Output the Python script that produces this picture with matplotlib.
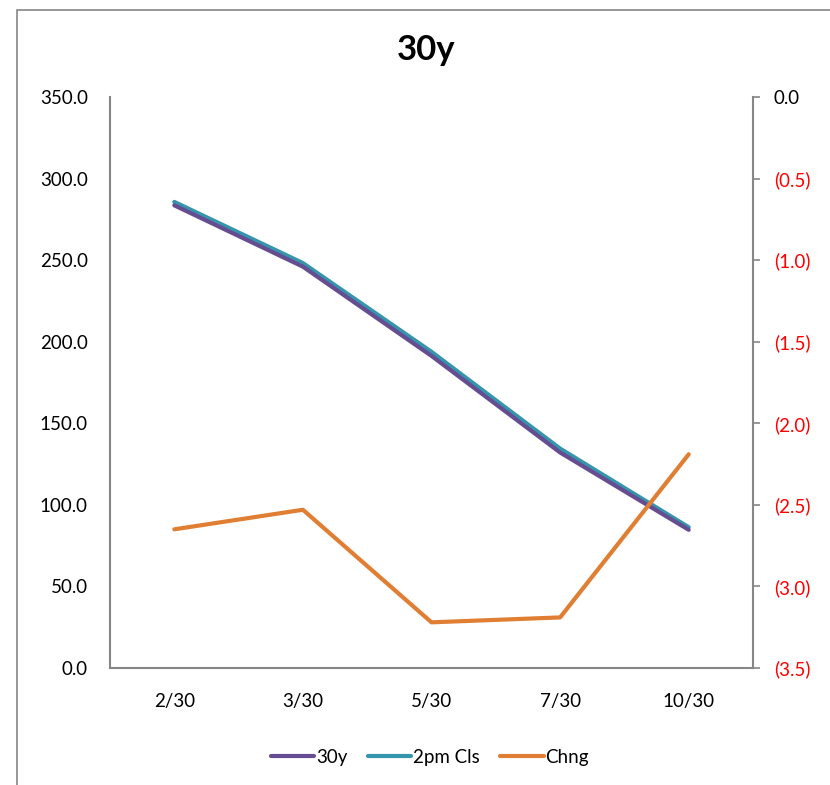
import matplotlib
matplotlib.use("Agg")
import matplotlib.pyplot as plt
from matplotlib.patches import Rectangle
from matplotlib.lines import Line2D
from matplotlib.ticker import FixedLocator, FuncFormatter

plt.rcParams['font.family'] = ['Lato', 'DejaVu Sans']

categories = ["2/30", "3/30", "5/30", "7/30", "10/30"]
y30 = [283.6, 246.0, 191.3, 132.1, 84.7]
cls2pm = [285.7, 248.2, 193.8, 134.5, 86.3]
chng = [-2.65, -2.53, -3.22, -3.19, -2.19]

left_ticks = [0, 50, 100, 150, 200, 250, 300, 350]
right_ticks = [0.0, -0.5, -1.0, -1.5, -2.0, -2.5, -3.0, -3.5]

c_purple = "#664D91"
c_teal = "#3595AD"
c_orange = "#E07F33"
c_axis = "#868686"

fs = 13.5

fig = plt.figure(figsize=(8.3, 7.85), dpi=100)
fig.patches.append(Rectangle((17/830, -0.02), 1.0, 1 - 10/785 + 0.02,
                             transform=fig.transFigure, fill=False,
                             edgecolor=c_axis, linewidth=1.2))

ax = fig.add_axes([110/830, 1 - 668/785, (753 - 110)/830, (668 - 97)/785])
ax2 = ax.twinx()

x = list(range(len(categories)))
ax.plot(x, y30, color=c_purple, lw=3, solid_capstyle='round', solid_joinstyle='round', zorder=3)
ax.plot(x, cls2pm, color=c_teal, lw=3, solid_capstyle='round', solid_joinstyle='round', zorder=2)
ax2.plot(x, chng, color=c_orange, lw=3, solid_capstyle='round', solid_joinstyle='round')

ax.set_xlim(-0.5, len(categories) - 0.5)
ax.set_ylim(0, 350)
ax2.set_ylim(-3.5, 0)

ax.set_xticks(x)
ax.set_xticklabels(categories)
ax.yaxis.set_major_locator(FixedLocator(left_ticks))
ax.yaxis.set_major_formatter(FuncFormatter(lambda v, p: f"{v:.1f}"))
ax2.yaxis.set_major_locator(FixedLocator(right_ticks))
ax2.yaxis.set_major_formatter(FuncFormatter(
    lambda v, p: "0.0" if abs(v) < 1e-9 else (f"({abs(v):.1f})" if v < 0 else f"{v:.1f}")))

for a in (ax, ax2):
    for s in a.spines.values():
        s.set_visible(False)
ax.spines['left'].set_visible(True)
ax.spines['bottom'].set_visible(True)
ax2.spines['right'].set_visible(True)
for s in (ax.spines['left'], ax.spines['bottom'], ax2.spines['right']):
    s.set_color(c_axis)
    s.set_linewidth(1.5)

ax.tick_params(axis='x', length=0, pad=18, labelsize=fs)
ax.tick_params(axis='y', length=0, pad=16, labelsize=fs)
ax2.tick_params(axis='y', direction='out', length=5, width=1.2, color=c_axis, pad=10, labelsize=fs)
for lbl, v in zip(ax2.get_yticklabels(), right_ticks):
    lbl.set_color('red' if v < 0 else 'black')

fig.text(426/830, 1 - 50/785, "30y", ha='center', va='center', fontsize=25, fontweight='bold')

handles = [Line2D([], [], color=c_purple, lw=3, solid_capstyle='round'),
           Line2D([], [], color=c_teal, lw=3, solid_capstyle='round'),
           Line2D([], [], color=c_orange, lw=3, solid_capstyle='round')]
fig.legend(handles, ["30y", "2pm Cls", "Chng"], loc='center', bbox_to_anchor=(430/830, 1 - 757/785),
           ncol=3, frameon=False, fontsize=fs, handlelength=2.3, handletextpad=0.1, columnspacing=1.1)

fig.savefig("out.png", dpi=100)
